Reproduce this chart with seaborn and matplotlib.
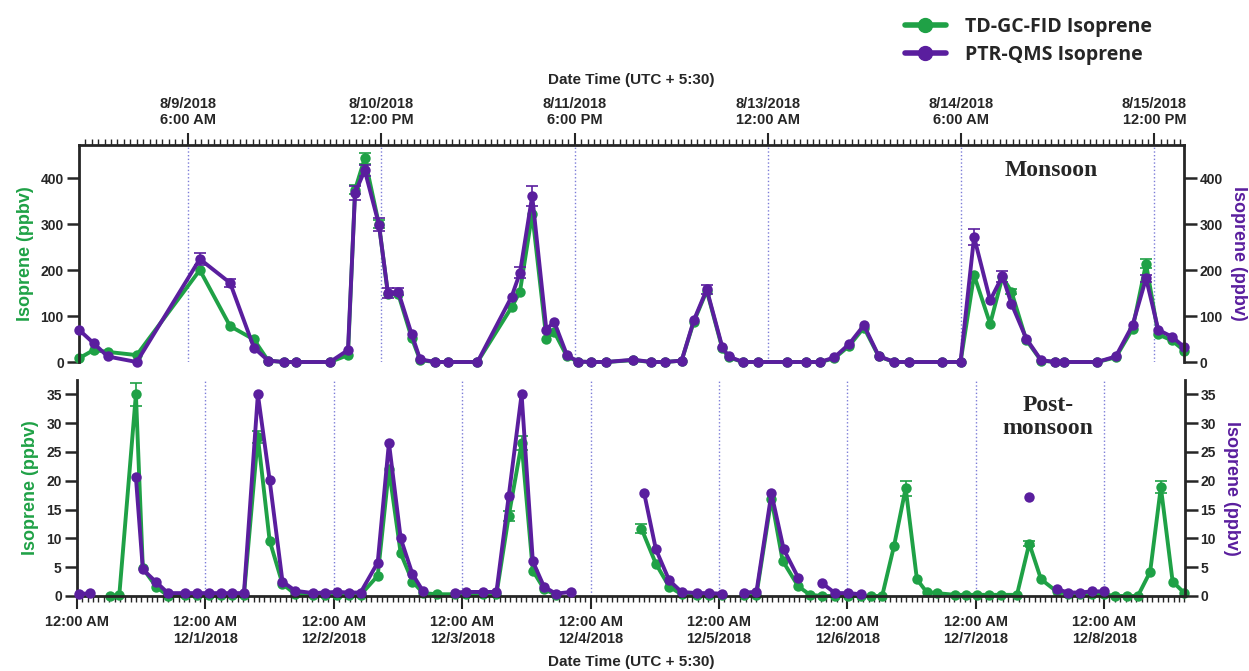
import numpy as np
import pandas as pd
import matplotlib.pyplot as plt
import matplotlib.dates as mdates
from matplotlib.ticker import FixedLocator, FuncFormatter
from matplotlib.lines import Line2D
import seaborn as sns

sns.set_style('ticks')
plt.rcParams['font.family'] = ['Liberation Sans', 'DejaVu Sans']
plt.rcParams['font.weight'] = 'bold'
plt.rcParams['axes.labelweight'] = 'bold'

GREEN = '#1fa146'
PURPLE = '#5a1e9e'
GRID = '#7c7cd8'

# %% data (hours after start of each campaign)
monsoon_start = pd.Timestamp('2018-08-08 00:00')
post_start = pd.Timestamp('2018-11-30 00:00')

top_hours = [13.05, 15.3, 17.5, 22.0, 31.8, 36.5, 40.2, 42.4, 44.8, 46.8,
             52.0, 54.8, 55.9, 57.4, 59.6, 61.0, 62.6, 64.7, 66.0, 68.3,
             70.4, 74.9, 80.2, 81.5, 83.4, 85.6, 86.8, 88.8, 90.5, 92.6,
             94.9, 99.1, 101.9, 104.0, 106.6, 108.5, 110.5, 112.9, 113.9, 116.1,
             118.4, 122.9, 125.9, 128.1, 130.3, 132.6, 134.9, 137.2, 139.6, 141.9,
             147.0, 149.9, 152.0, 154.5, 156.4, 157.8, 160.1, 162.4, 164.6, 166.0,
             171.1, 174.0, 176.6, 178.7, 180.6, 182.7, 184.6]
top_gc = [8, 26, 22, 15, 200, 78, 49, 3, 0, 0,
          0, 15, 375, 443, 300, 148, 148, 52, 4, 0,
          0, 0, 119, 153, 323, 51, 66, 12, 1, 0,
          0, 4, 0, 0, 3, 88, 155, 30, 10, 0,
          0, 0, 0, 0, 8, 35, 75, 12, 0, 0,
          0, 0, 189, 83, 185, 153, 48, 3, 0, 0,
          0, 10, 72, 214, 60, 47, 25]
top_ptr = [70, 41, 12, 0, 224, 172, 31, 3, 0, 0,
           0, 26, 368, 417, 299, 150, 153, 60, 6, 0,
           0, 0, 142, 194, 361, 70, 88, 15, 1, 0,
           0, 5, 0, 0, 3, 91, 158, 33, 12, 0,
           0, 0, 0, 0, 10, 39, 80, 13, 0, 0,
           0, 0, 272, 134, 187, 127, 51, 4, 0, 0,
           0, 12, 80, 182, 70, 55, 33]
top_gc_err_hours = [55.9, 57.4, 59.6, 157.8, 178.7]
top_gc_err = [10, 12, 8, 6, 10]
top_ptr_err_hours = [31.8, 36.5, 55.9, 57.4, 59.6, 61.0, 62.6, 81.5, 83.4, 110.5, 152.0, 156.4, 178.7]
top_ptr_err = [13, 8, 15, 12, 15, 10, 8, 12, 22, 10, 18, 12, 8]

nan = np.nan
bot_gc_hours = [6.1, 7.9, 11.0, 12.3, 14.8, 17.0, 20.1, 22.5, 24.7, 26.9,
                28.9, 31.2, 33.8, 36.0, 38.4, 40.8, 44.1, 46.3, 48.5, 50.9,
                53.0, 56.2, 58.3, 60.5, 62.7, 64.7, 67.2, 70.6, 72.7, 75.9,
                78.4, 80.7, 83.1, 85.2, 87.3, 89.5, 97.0, 105.5, 108.2, 110.7,
                113.0, 115.8, 118.1, 120.5, 122.5, 124.7, 127.0, 129.8, 131.9, 134.8,
                137.0, 139.3, 141.7, 144.2, 146.5, 148.4, 150.5, 152.7, 154.9, 157.0,
                158.8, 160.7, 164.1, 166.2, 168.2, 170.5, 172.7, 175.7, 178.0, 180.2,
                183.1, 185.3, 187.5, 189.7, 192.0, 194.0, 196.2, 198.3, 200.6, 202.6,
                204.8, 206.9]
bot_gc = [0, 0.2, 35, 4.8, 1.6, 0, 0.2, 0.2, 0.2, 0.2,
          0.2, 0.2, 27.6, 9.6, 2.1, 0.3, 0.2, 0.2, 0.2, 0.2,
          0.2, 3.5, 22, 7.4, 2.5, 0.5, 0.3, 0.3, 0.3, 0.3,
          0.3, 13.9, 26.5, 4.4, 1.2, 0.2, nan, 11.7, 5.6, 1.6,
          0.3, 0.2, 0.2, 0.2, nan, 0.2, 0.2, 16.9, 6.1, 1.7,
          0.2, 0, 0, 0, 0, 0, 0, 8.6, 18.7, 2.9,
          0.7, 0.5, 0.2, 0.2, 0.2, 0.2, 0.2, 0.2, 9.1, 2.9,
          0.8, 0.3, 0.3, 0.3, 0.3, 0, 0, 0, 4.2, 18.9,
          2.5, 0.6]
bot_ptr_hours = [0.3, 2.4, 6.0, 11.0, 12.3, 14.8, 17.0, 20.1, 22.5, 24.7,
                 26.9, 28.9, 31.2, 33.8, 36.0, 38.4, 40.8, 44.1, 46.3, 48.5,
                 50.9, 53.0, 56.2, 58.3, 60.5, 62.7, 64.7, 67.5, 70.6, 72.7,
                 75.9, 78.4, 80.7, 83.1, 85.2, 87.3, 89.5, 92.3, 100.0, 106.0,
                 108.2, 110.7, 113.0, 115.8, 118.1, 120.5, 122.5, 124.7, 127.0, 129.8,
                 132.1, 134.8, 137.0, 139.3, 141.7, 144.2, 146.5, 160.0, 178.0, 180.0,
                 183.1, 185.3, 187.5, 189.7, 192.0]
bot_ptr = [0.3, 0.5, nan, 20.6, 4.6, 2.4, 0.5, 0.5, 0.5, 0.5,
           0.5, 0.5, 0.5, 35, 20.1, 2.5, 0.9, 0.5, 0.6, 0.7,
           0.6, 0.6, 5.8, 26.6, 10.0, 3.8, 0.8, nan, 0.6, 0.7,
           0.7, 0.7, 17.4, 35, 6.0, 1.6, 0.4, 0.7, nan, 17.9,
           8.1, 2.7, 0.7, 0.5, 0.5, 0.4, nan, 0.6, 0.7, 17.8,
           8.1, 3.2, nan, 2.2, 0.5, 0.5, 0.3, nan, 17.2, nan,
           1.2, 0.6, 0.6, 0.8, 0.8]
bot_gc_err_hours = [11.0, 33.8, 80.7, 83.1, 105.5, 154.9, 178.0, 202.6]
bot_gc_err = [2.0, 1.0, 0.8, 1.2, 0.8, 1.3, 0.5, 1.0]


def make_frame(start, hours, values, err_hours=(), errs=()):
    df = pd.DataFrame({'hours': hours, 'value': values})
    df['seg'] = df['value'].isna().cumsum()
    e = pd.DataFrame({'hours': list(err_hours), 'err': list(errs)})
    df = df.merge(e, on='hours', how='left').fillna({'err': 0})
    df['time'] = start + pd.to_timedelta(df['hours'], unit='h')
    return df.dropna(subset=['value'])


def draw_series(ax, df, color):
    sns.lineplot(data=df, x='time', y='value', units='seg', estimator=None,
                 color=color, marker='o', markersize=7.5, markeredgewidth=0,
                 linewidth=2.8, clip_on=False, legend=False, ax=ax)
    e = df[df['err'] > 0]
    ax.errorbar(e['time'], e['value'], yerr=e['err'], fmt='none', ecolor=color,
                elinewidth=1.2, capsize=4, capthick=1.2, clip_on=False)
    ax.set_xlabel('')
    ax.set_ylabel('')


def style_panel(ax, axr, ylim, yticks, hide):
    for a in (ax, axr):
        a.set_ylim(*ylim)
        a.set_yticks(yticks)
        a.tick_params(axis='y', length=9, width=1.8, labelsize=10, pad=2)
    for s in ax.spines.values():
        s.set_linewidth(2)
    ax.spines['right'].set_visible(False)
    ax.spines[hide].set_visible(False)
    for name, s in axr.spines.items():
        s.set_visible(name == 'right')
        s.set_linewidth(2)
    ax.xaxis.grid(True, which='major', linestyle=':', color=GRID, linewidth=1)
    ax.set_ylabel('Isoprene (ppbv)', color=GREEN, fontsize=13, labelpad=5)
    axr.set_ylabel('Isoprene (ppbv)', color=PURPLE, fontsize=13, rotation=270,
                   va='bottom', labelpad=5)


def fmt_top(x, pos):
    d = mdates.num2date(x)
    return f"{d.month}/{d.day}/{d.year}\n{d.strftime('%I:%M %p').lstrip('0')}"


def fmt_bottom(x, pos):
    d = mdates.num2date(x)
    t = d.strftime('%I:%M %p').lstrip('0')
    if pos == 0:
        return t
    return f"{t}\n{d.month}/{d.day}/{d.year}"


fig = plt.figure(figsize=(12.49, 6.71), dpi=100)
ax1 = fig.add_axes([0.0633, 0.4605, 0.8847, 0.3234])
ax1r = ax1.twinx()
ax2 = fig.add_axes([0.0617, 0.1118, 0.887, 0.322])
ax2r = ax2.twinx()

draw_series(ax1, make_frame(monsoon_start, top_hours, top_gc, top_gc_err_hours, top_gc_err), GREEN)
draw_series(ax1r, make_frame(monsoon_start, top_hours, top_ptr, top_ptr_err_hours, top_ptr_err), PURPLE)
draw_series(ax2, make_frame(post_start, bot_gc_hours, bot_gc, bot_gc_err_hours, bot_gc_err), GREEN)
draw_series(ax2r, make_frame(post_start, bot_ptr_hours, bot_ptr), PURPLE)

style_panel(ax1, ax1r, (0, 472), range(0, 401, 100), 'bottom')
style_panel(ax2, ax2r, (0, 37.5), range(0, 36, 5), 'top')

# top x axis (monsoon)
ax1.set_xlim(monsoon_start + pd.Timedelta(hours=13.05), monsoon_start + pd.Timedelta(hours=184.6))
top_major = pd.date_range('2018-08-09 06:00', periods=6, freq='30h')
ax1.xaxis.set_major_locator(FixedLocator(mdates.date2num(top_major)))
ax1.xaxis.set_minor_locator(mdates.HourLocator(interval=1))
ax1.xaxis.set_major_formatter(FuncFormatter(fmt_top))
ax1.xaxis.tick_top()
ax1.xaxis.set_label_position('top')
ax1.tick_params(axis='x', which='major', length=9, width=1.5, labelsize=10.5, pad=4)
ax1.tick_params(axis='x', which='minor', length=4, width=1)
ax1.set_xlabel('Date Time (UTC + 5:30)', fontsize=11, labelpad=9)

# bottom x axis (post-monsoon)
ax2.set_xlim(post_start, post_start + pd.Timedelta(hours=207.1))
ax2.xaxis.set_major_locator(mdates.DayLocator())
ax2.xaxis.set_minor_locator(mdates.HourLocator(interval=1))
ax2.xaxis.set_major_formatter(FuncFormatter(fmt_bottom))
ax2.tick_params(axis='x', which='major', length=9, width=1.5, labelsize=10.5, pad=5)
ax2.tick_params(axis='x', which='minor', length=4, width=1)
ax2.set_xlabel('Date Time (UTC + 5:30)', fontsize=11, labelpad=7)

fig.text(0.842, 0.7466, 'Monsoon', family='Liberation Serif', fontsize=17,
         ha='center', va='center')
fig.text(0.839, 0.3785, 'Post-\nmonsoon', family='Liberation Serif', fontsize=17,
         ha='center', va='center', linespacing=1.15)

handles = [Line2D([], [], color=GREEN, lw=4, marker='o', markersize=10),
           Line2D([], [], color=PURPLE, lw=4, marker='o', markersize=10)]
fig.legend(handles, ['TD-GC-FID Isoprene', 'PTR-QMS Isoprene'], loc='center left',
           bbox_to_anchor=(0.7246, 1 - 41 / 671), frameon=False, borderpad=0,
           borderaxespad=0, handlelength=2.1, handletextpad=1.0, labelspacing=0.4,
           prop={'family': 'Open Sans', 'weight': 'bold', 'size': 14})

fig.savefig('out.png', dpi=100)
